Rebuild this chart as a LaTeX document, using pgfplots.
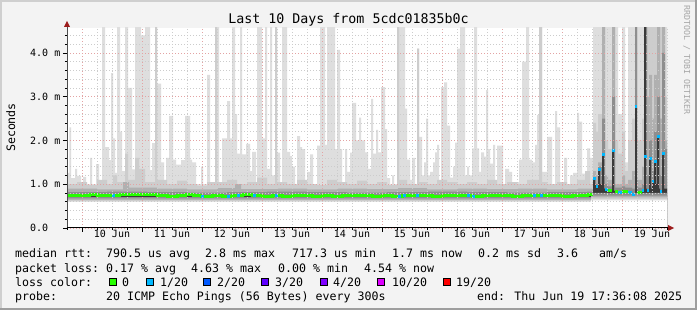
\documentclass[border=0pt]{standalone}
\usepackage{fontspec}
\usepackage{pgfplots}
\pgfplotsset{compat=1.18}
\usepackage{pgfplotstable}
\newfontfamily\mono{DejaVu Sans Mono}
\definecolor{bgc}{HTML}{F3F3F3}
\definecolor{shadeA}{HTML}{CFCFCF}
\definecolor{shadeB}{HTML}{9E9E9E}
\definecolor{Lone}{HTML}{DEDEDE}
\definecolor{Ltwo}{HTML}{CDCDCD}
\definecolor{Lthree}{HTML}{B0B0B0}
\definecolor{Lfour}{HTML}{8E8E8E}
\definecolor{Ldark}{HTML}{3A3A3A}
\definecolor{lossA}{HTML}{26FF00}
\definecolor{lossB}{HTML}{00B8FF}
\definecolor{lossC}{HTML}{0059FF}
\definecolor{lossD}{HTML}{5E00FF}
\definecolor{lossE}{HTML}{7E00FF}
\definecolor{lossF}{HTML}{DD00FF}
\definecolor{lossG}{HTML}{FF0000}
\definecolor{mgrid}{HTML}{E3A3A3}
\definecolor{grid}{HTML}{CCCCCC}
\definecolor{arrowred}{HTML}{9C1C1C}
\newcommand\lf{\mono\fontsize{11.6bp}{14bp}\selectfont}

\pgfplotstableread{
x y
0 1.26
2.3 2.3
4 1.14
8 1.35
10 1.19
14 1.0
16 1.17
19 1.0
23 1.6
25 1.0
29 1.46
32 1.0
35 4.6
38 1.85
42 1.55
44 3.54
46 2.05
48 1.26
50 4.6
53 2.2
55 1.3
58 4.6
61 3.2
65 1.34
68 4.6
74 4.4
78 4.6
83 1.32
85 1.94
88 4.6
90 3.3
94 1.5
97 1.0
99 1.6
102 2.56
106 1.56
109 1.45
114 1.55
118 2.56
123 1.56
125 1.5
129 1.0
134 1.4
136 1.0
140 3.5
143 1.0
148 4.6
152 1.05
155 2.05
160 2.9
163 2.05
165 4.6
168 2.6
170 1.7
173 4.6
175 1.68
179 1.92
183 1.3
185 1.74
189 1.0
190 4.6
195 2.05
198 4.6
200 1.35
203 4.6
205 1.2
208 4.6
210 1.72
213 1.0
215 4.6
220 1.74
223 1.64
225 1.4
228 1.0
230 2.1
233 1.85
235 1.8
238 0.95
240 1.28
243 1.68
246 1.0
250 1.88
253 4.6
258 1.9
260 4.6
268 1.8
270 4.07
273 1.8
275 1.0
278 1.8
280 1.28
283 1.72
285 2.86
289 2.0
292 2.52
294 2.0
298 1.73
301 1.35
304 2.95
306 1.7
309 2.24
311 1.73
314 3.22
318 2.26
320 1.14
323 1.0
325 1.2
327 1.0
330 4.6
338 2.73
340 1.56
343 1.1
345 1.6
348 1.0
350 4.1
352 2.08
355 1.2
357 1.5
359 2.5
361 1.2
363 1.28
366 1.5
368 1.73
370 1.9
372 1.0
374 3.22
377 3.33
380 2.34
383 1.15
386 1.4
388 1.95
390 4.1
393 4.6
398 1.2
400 1.4
402 1.2
405 1.82
407 4.6
410 1.82
412 1.28
414 1.73
417 1.63
419 3.15
421 1.8
423 1.47
426 1.9
428 1.0
430 1.88
436 1.0
438 1.35
442 1.28
445 1.0
448 1.05
452 1.56
455 3.8
459 4.6
462 1.56
465 1.5
468 1.9
470 2.58
472 4.6
475 1.28
480 2.08
485 1.0
488 2.67
490 2.3
493 1.0
495 0.95
497 1.6
500 0.95
503 1.2
506 1.26
510 2.63
512 2.43
515 1.24
520 1.82
523 1.6
526 4.6
551 2.6
555 4.6
558 1.5
561 4.6
600 4.6
}\tmax

\pgfplotstableread{
x y
0 1.0
10 1.05
20 0.98
30 1.1
40 1.0
46 1.2
50 1.05
58 1.7
61 1.1
68 1.6
72 1.35
78 1.05
88 4.6
90 1.1
100 1.0
110 1.08
120 1.0
130 0.97
140 1.05
148 4.6
150 1.05
160 1.1
170 1.0
180 1.05
190 1.15
200 1.0
208 4.6
210 1.05
220 1.0
230 1.1
240 1.0
250 0.98
260 1.1
270 1.05
280 1.0
290 1.08
300 1.0
310 1.05
320 0.98
330 4.6
332 1.1
340 1.0
350 4.1
352 1.05
360 1.0
370 1.1
380 1.05
390 1.0
400 1.05
410 1.0
420 1.1
430 1.0
440 1.05
450 1.0
460 1.1
472 4.6
475 1.05
480 1.0
490 1.05
500 1.0
510 1.1
518 1.3
523 1.0
526 2.4
529 2.2
531 2.6
535 4.6
538 2.0
541 1.8
545 4.6
548 2.0
551 1.7
555 2.2
558 1.3
561 2.0
565 2.5
568 4.6
570 2.0
575 2.5
577 4.6
598 3.0
600 3.0
}\ttwo

\pgfplotstableread{
x y
0 0.9
30 0.88
56 1.05
62 0.92
90 0.9
120 0.88
150 0.91
168 1.0
174 0.89
210 0.9
240 0.88
270 0.9
300 0.89
330 0.91
360 0.88
390 0.9
420 0.89
450 0.9
480 0.88
510 0.9
526 1.3
529 1.2
531 1.5
535 4.6
538 1.2
541 1.1
545 4.6
548 1.0
551 1.0
555 1.2
558 1.0
561 1.1
565 1.3
568 4.6
570 1.1
575 1.4
577 4.6
580 3.0
582 3.5
585 2.5
587 3.5
590 4.6
593 2.5
595 4.6
598 2.0
600 2.0
}\tthree

\pgfplotstableread{
x y
0 0.82
40 0.83
80 0.82
120 0.81
160 0.82
200 0.83
240 0.82
280 0.81
320 0.82
360 0.83
400 0.82
440 0.81
480 0.82
520 0.83
526 1.15
529 1.0
531 1.4
535 2.5
538 1.0
541 0.95
545 3.0
548 0.92
551 0.92
555 0.95
558 0.92
561 0.92
565 0.9
568 4.6
570 0.92
575 1.0
577 4.6
580 1.2
582 2.0
585 1.3
587 2.2
590 3.0
593 1.2
595 4.0
598 1.8
600 1.8
}\tfour

\pgfplotstableread{
x y
0 0.75
8 0.74
16 0.75
22 0.76
30 0.75
40 0.74
52 0.77
60 0.76
70 0.77
80 0.76
90 0.74
100 0.73
110 0.74
118 0.76
126 0.75
134 0.73
145 0.74
155 0.73
165 0.74
175 0.76
185 0.74
195 0.73
205 0.74
215 0.73
225 0.74
235 0.75
245 0.73
255 0.74
265 0.73
275 0.74
285 0.75
295 0.74
305 0.73
315 0.75
325 0.73
335 0.74
345 0.75
355 0.74
365 0.73
375 0.74
385 0.75
395 0.74
405 0.73
415 0.74
425 0.75
435 0.74
445 0.73
455 0.74
465 0.75
475 0.74
485 0.75
495 0.73
505 0.74
515 0.74
520 0.76
526 0.76
}\tmed

\pgfplotstableread{
x y
526 1.12
528 1.0
529 0.94
531 1.33
533 1.0
535 1.69
537 0.9
538 0.87
541 0.85
545 1.76
547 0.85
548 0.84
551 0.82
555 0.84
558 0.84
561 0.82
565 0.76
568 2.77
570 0.82
575 0.85
577 4.6
579 0.9
580 0.85
582 1.58
584 0.9
585 1.07
587 1.53
589 1.0
590 2.08
592 0.9
593 0.84
595 1.71
597 0.9
600 0.9
}\tdark

\begin{document}
\begin{tikzpicture}
\useasboundingbox (0,0) rectangle (697bp,310bp);
\fill[bgc] (0,0) rectangle (697bp,310bp);
\fill[shadeA] (0,308bp) rectangle (697bp,310bp);
\fill[shadeA] (0,0) rectangle (2bp,310bp);
\fill[shadeB] (0,0) rectangle (697bp,2bp);
\fill[shadeB] (695bp,0) rectangle (697bp,310bp);

\begin{axis}[
  at={(67bp,82bp)}, anchor=south west,
  scale only axis, width=600bp, height=200bp,
  xmin=0, xmax=600, ymin=0, ymax=4.5714,
  axis background/.style={fill=white},
  axis on top,
  axis line style={draw=none},
  tick pos=left,
  tick align=outside,
  major tick length=4bp, minor tick length=2bp,
  tick style={black, line width=0.8bp},
  grid=both,
  major grid style={color=mgrid, line width=0.8bp, dash pattern=on 1bp off 2bp},
  minor grid style={color=grid, line width=0.8bp, dash pattern=on 1bp off 2bp},
  xtick={15,75,135,195,255,315,375,435,495,555},
  xticklabels={},
  minor xtick={0,15,...,600},
  extra x ticks={45,105,165,225,285,345,405,465,525,585},
  extra x tick labels={10 Jun,11 Jun,12 Jun,13 Jun,14 Jun,15 Jun,16 Jun,17 Jun,18 Jun,19 Jun},
  extra x tick style={grid=none, major tick length=0pt},
  ytick={0,1,2,3,4},
  yticklabels={0.0,1.0 m,2.0 m,3.0 m,4.0 m},
  minor ytick={0.2,0.4,0.6,0.8,1.2,1.4,1.6,1.8,2.2,2.4,2.6,2.8,3.2,3.4,3.6,3.8,4.2,4.4},
  tick label style={font=\mono\fontsize{10bp}{12bp}\selectfont, inner sep=0pt},
  xticklabel style={anchor=base},
  xticklabel shift=10bp,
  yticklabel style={anchor=west},
  yticklabel shift=33bp,
]
\addplot[const plot, fill=Lone, draw=none] table {\tmax} \closedcycle;
\addplot[const plot, fill=Ltwo, draw=none] table {\ttwo} \closedcycle;
\addplot[const plot, fill=Lthree, draw=none] table {\tthree} \closedcycle;
\addplot[const plot, fill=Lfour, draw=none] table {\tfour} \closedcycle;
\addplot[const plot, fill=Ldark, draw=none] table {\tmed} \closedcycle;
\addplot[const plot, fill=Ldark, draw=none] table {\tdark} \closedcycle;
% lower smoke (below median)
\addplot[const plot, fill=Lfour, draw=none] coordinates {(0,0.705) (524,0.80) (600,0.80)} \closedcycle;
\addplot[const plot, fill=Lthree, draw=none] coordinates {(0,0.675) (524,0.74) (600,0.74)} \closedcycle;
\addplot[const plot, fill=Ltwo, draw=none] coordinates {(0,0.645) (524,0.70) (600,0.70)} \closedcycle;
\addplot[const plot, fill=Lone, draw=none] coordinates {(0,0.615) (524,0.66) (600,0.66)} \closedcycle;
\addplot[const plot, fill=white, draw=none] coordinates {(0,0.595) (524,0.63) (600,0.63)} \closedcycle;
% median, loss 0
\addplot[const plot, draw=lossA, line width=3bp] table {\tmed};
\addplot[draw=lossA, line width=3bp, unbounded coords=jump] coordinates {
(541,0.85) (545,0.85) (545,nan) (548,0.84) (551,0.84) (551,nan)
(555,0.84) (561,0.84) (561,nan) (570,0.82) (575,0.82)};
% median, loss 1/20
\addplot[draw=lossB, line width=3bp, unbounded coords=jump] coordinates {
(45,0.74) (48,0.74) (48,nan) (134,0.73) (137,0.73) (137,nan)
(160,0.73) (163,0.73) (163,nan) (170,0.74) (173,0.74) (173,nan)
(186,0.74) (188.5,0.74) (188.5,nan) (208,0.74) (210.5,0.74) (210.5,nan)
(331,0.73) (333.5,0.73) (333.5,nan) (336,0.74) (338.5,0.74) (338.5,nan)
(349,0.75) (351.5,0.75) (351.5,nan) (400,0.74) (402.5,0.74) (402.5,nan)
(405,0.73) (408,0.73) (408,nan) (466,0.75) (468.5,0.75) (468.5,nan)
(473,0.75) (475.5,0.75) (475.5,nan)
(526,1.12) (528.5,1.12) (528.5,nan) (529,0.94) (531,0.94) (531,nan)
(531,1.33) (533.5,1.33) (533.5,nan) (535,1.69) (537.5,1.69) (537.5,nan)
(538,0.87) (541,0.87) (541,nan) (545,1.76) (547.5,1.76) (547.5,nan)
(551,0.82) (555,0.82) (555,nan) (561,0.82) (565,0.82) (565,nan)
(565,0.76) (568,0.76) (568,nan) (568,2.77) (570,2.77) (570,nan)
(575,0.85) (577,0.85) (577,nan) (577,1.64) (579.5,1.64) (579.5,nan)
(580,0.85) (582,0.85) (582,nan) (582,1.58) (584.5,1.58) (584.5,nan)
(585,1.07) (587,1.07) (587,nan) (587,1.53) (589.5,1.53) (589.5,nan)
(590,2.08) (592.5,2.08) (592.5,nan) (593,0.84) (595,0.84) (595,nan)
(595,1.71) (597.5,1.71)};
\end{axis}

% axis lines and arrows
\draw[black!70, line width=1bp] (67bp,82bp) -- (67bp,286bp);
\draw[black, line width=1bp] (66.5bp,82bp) -- (669bp,82bp);
\fill[arrowred] (64bp,283bp) -- (70bp,283bp) -- (67bp,289bp) -- cycle;
\fill[arrowred] (668bp,85bp) -- (668bp,79bp) -- (674bp,82bp) -- cycle;

% title and side texts
\node[anchor=base, inner sep=0pt, font=\mono\fontsize{13.3bp}{16bp}\selectfont] at (348.5bp,286bp) {Last 10 Days from 5cdc01835b0c};
\node[anchor=base, inner sep=0pt, rotate=90, font=\mono\fontsize{11.6bp}{14bp}\selectfont] at (15bp,182.5bp) {Seconds};
\node[anchor=base, inner sep=0pt, rotate=-90, text=black!35, font=\mono\fontsize{8.3bp}{10bp}\selectfont] at (684bp,250bp) {RRDTOOL / TOBI OETIKER};

% legend
\begin{scope}[every node/.style={anchor=base west, inner sep=0pt, font=\lf}]
\node at (15bp,52bp) {median rtt:};
\node at (106bp,52bp) {790.5 us avg};
\node at (205bp,52bp) {2.8 ms max};
\node at (292bp,52bp) {717.3 us min};
\node at (392bp,52bp) {1.7 ms now};
\node at (478bp,52bp) {0.2 ms sd};
\node at (557bp,52bp) {3.6};
\node at (599bp,52bp) {am/s};
\node at (15bp,38bp) {packet loss:};
\node at (106bp,38bp) {0.17 \% avg};
\node at (191bp,38bp) {4.63 \% max};
\node at (278bp,38bp) {0.00 \% min};
\node at (364bp,38bp) {4.54 \% now};
\node at (15bp,24bp) {loss color:};
\node at (122bp,24bp) {0};
\node at (160bp,24bp) {1/20};
\node at (217bp,24bp) {2/20};
\node at (275bp,24bp) {3/20};
\node at (333bp,24bp) {4/20};
\node at (392bp,24bp) {10/20};
\node at (456bp,24bp) {19/20};
\node at (15bp,10bp) {probe:};
\node at (106bp,10bp) {20 ICMP Echo Pings (56 Bytes) every 300s};
\node at (477bp,10bp) {end: Thu Jun 19 17:36:08 2025};
\end{scope}
\foreach \bx/\bc in {109/lossA,146/lossB,203/lossC,261/lossD,320/lossE,377/lossF,443/lossG}{
  \filldraw[fill=\bc, draw=black, line width=0.9bp] (\bx bp+0.5bp,24.5bp) rectangle (\bx bp+7.5bp,31.5bp);
}
\end{tikzpicture}
\end{document}
